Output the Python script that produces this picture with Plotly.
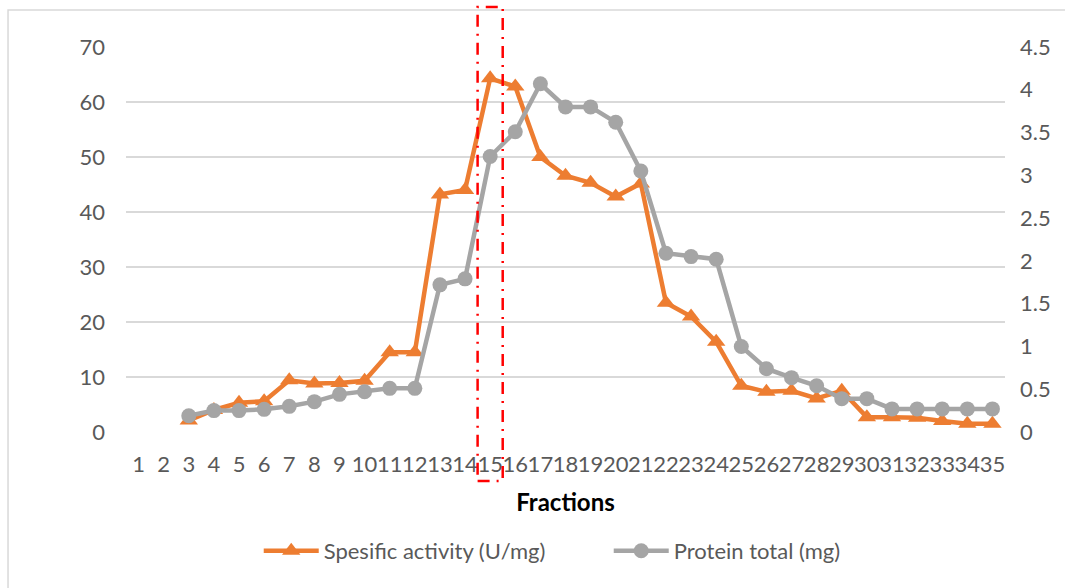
import plotly.graph_objects as go

fractions = list(range(1, 36))
tick_labels = [str(f) for f in fractions]

specific_activity = [None, None, 2.1, 4.0, 5.3, 5.6, 9.4, 8.8, 8.9, 9.3, 14.5, 14.5,
                     43.2, 44.0, 64.3, 62.8, 50.0, 46.6, 45.3, 42.8, 45.2, 23.5,
                     21.0, 16.4, 8.4, 7.3, 7.5, 6.1, 7.5, 2.7, 2.7, 2.6, 2.0, 1.5, 1.5]

protein_total = [None, None, 0.19, 0.25, 0.25, 0.265, 0.30, 0.355, 0.44, 0.47, 0.51, 0.51,
                 1.72, 1.79, 3.22, 3.51, 4.07, 3.80, 3.80, 3.62, 3.05, 2.09,
                 2.05, 2.02, 1.00, 0.74, 0.635, 0.54, 0.39, 0.39, 0.27, 0.27, 0.27, 0.27, 0.27]

left_ticks = [0, 10, 20, 30, 40, 50, 60, 70]
right_ticks = [0, 0.5, 1, 1.5, 2, 2.5, 3, 3.5, 4, 4.5]
right_labels = ["0", "0.5", "1", "1.5", "2", "2.5", "3", "3.5", "4", "4.5"]

FONT = "Lato"
TXT = "#595959"
ORANGE = "#ED7D31"
GREY = "#A5A5A5"

fig = go.Figure()
fig.add_trace(go.Scatter(
    x=fractions, y=specific_activity, name="Spesific activity (U/mg)",
    mode="lines+markers", line=dict(color=ORANGE, width=4.5),
    marker=dict(symbol="triangle-up", size=16, color=ORANGE),
    yaxis="y"))
fig.add_trace(go.Scatter(
    x=fractions, y=protein_total, name="Protein total (mg)",
    mode="lines+markers", line=dict(color=GREY, width=4.5),
    marker=dict(symbol="circle", size=15, color=GREY),
    yaxis="y2"))

# Outer chart border
fig.add_shape(type="rect", xref="paper", yref="paper",
              x0=-0.1342, x1=1.08, y0=-0.45, y1=1.096,
              line=dict(color="#D9D9D9", width=1.5), layer="below")
# Highlight rectangle around fraction 15
fig.add_shape(type="rect", xref="x", yref="paper",
              x0=14.5, x1=15.5, y0=-0.127, y1=1.104,
              line=dict(color="#FF0000", width=2.5, dash="12px,7px,2px,7px"))

fig.update_layout(
    width=1065, height=588,
    margin=dict(l=126, r=60, t=47, b=156),
    paper_bgcolor="white", plot_bgcolor="white",
    font=dict(family=FONT, size=22, color=TXT),
    showlegend=True,
    legend=dict(orientation="h", x=0.151, xanchor="left", y=-0.309, yanchor="middle",
                font=dict(family=FONT, size=22, color=TXT), itemwidth=55,
                entrywidth=280),
    xaxis=dict(range=[0.5, 35.5], tickmode="array", tickvals=fractions, ticktext=tick_labels,
               tickangle=0, showgrid=False, zeroline=False, showline=False,
               ticks="", ticklabelstandoff=17,
               tickfont=dict(family=FONT, size=22, color=TXT),
               title=dict(text="<b>Fractions</b>", standoff=18,
                          font=dict(family=FONT, size=24, color="black"))),
    yaxis=dict(range=[0, 70], tickmode="array", tickvals=left_ticks,
               showgrid=True, gridcolor="#D9D9D9", gridwidth=1.5, zeroline=False,
               showline=False, ticks="", ticklabelstandoff=20,
               tickfont=dict(family=FONT, size=22, color=TXT)),
    yaxis2=dict(range=[0, 4.5], overlaying="y", side="right", tickmode="array",
                tickvals=right_ticks, ticktext=right_labels, showgrid=False,
                zeroline=False, showline=False, ticks="", ticklabelstandoff=14,
                tickfont=dict(family=FONT, size=22, color=TXT)),
)

fig.write_html("out.html")
